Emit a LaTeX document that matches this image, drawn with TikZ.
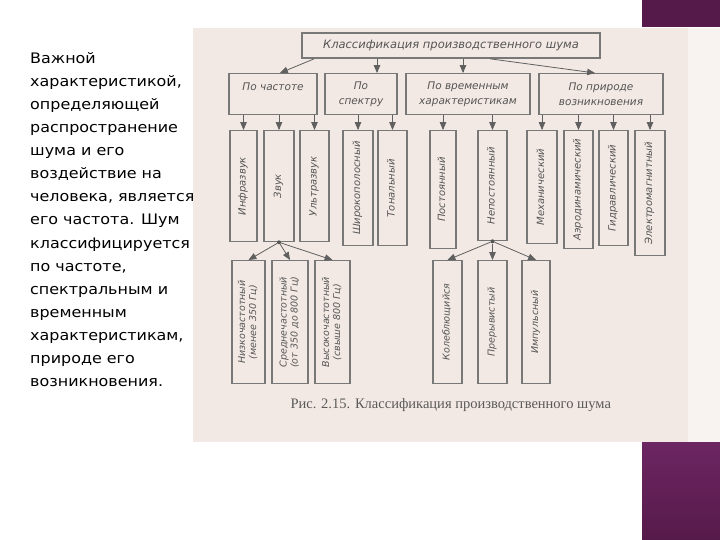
\documentclass[tikz,border=0pt]{standalone}
\usepackage{fontspec}
\setmainfont{Liberation Serif}
\setsansfont{DejaVu Sans}
\newfontfamily\introfont[FakeStretch=1.1]{DejaVu Sans}
\usetikzlibrary{arrows, positioning}
\definecolor{scanpaper}{HTML}{F3E9E4}
\definecolor{plum}{HTML}{561A4A}
\definecolor{plumlight}{HTML}{6C2662}
\definecolor{inkgray}{HTML}{555555}
\definecolor{framegray}{HTML}{787878}
\newcommand{\vtext}[1]{\rotatebox{90}{\begin{tabular}{@{}c@{}}#1\end{tabular}}}
\tikzset{
    >=triangle 45, % filled triangle tips as in the scan
    arrowline/.style={->, draw=framegray!80!black, line width=0.8pt},
    toplabel/.style={draw=framegray, line width=1.6pt, text=inkgray, font=\sffamily\itshape\fontsize{11.5}{13}\selectfont, minimum width=298pt, minimum height=25pt},
    groupbox/.style={draw=framegray, line width=1.2pt, text=inkgray, font=\sffamily\itshape\fontsize{10.5}{15}\selectfont, align=center, minimum height=41pt, anchor=north},
    kindbox/.style={draw=framegray, line width=1.3pt, text=inkgray, font=\sffamily\itshape\fontsize{10}{11}\selectfont, anchor=north, inner sep=0pt},
    subkindbox/.style={kindbox, font=\sffamily\itshape\fontsize{9.5}{11}\selectfont, minimum height=123pt},
    junction/.style={circle, fill=framegray!70!black, inner sep=0pt, minimum size=4pt},
}
\begin{document}
\begin{tikzpicture}[x=1pt, y=-1pt]
    \useasboundingbox (0,0) rectangle (720,540);
    % page, scan and side bar
    \fill[white] (0,0) rectangle (720,540);
    \fill[scanpaper] (193,28) rectangle (688,442);
    \fill[scanpaper!55!white] (688,28) rectangle (720,442);
    \fill[plum] (642,0) rectangle (720,27);
    \shade[top color=plumlight, bottom color=plum] (642,442) rectangle (720,540);

    \node[anchor=north west, align=left, inner sep=0pt, font=\introfont\fontsize{14.5}{23.1}\selectfont] (intro) at (30,52) {Важной\\характеристикой,\\определяющей\\распространение\\шума и его\\воздействие на\\человека, является\\его частота. Шум\\классифицируется\\по частоте,\\спектральным и\\временным\\характеристикам,\\природе его\\возникновения.};

    \node[toplabel] (title) at (451,45.5) {Классификация производственного шума};

    \node[groupbox, minimum width=88pt] (chast) at (273,73) {По частоте\\\mbox{}};
    \node[groupbox, minimum width=72pt] (spektr) at (361,73) {По\\спектру};
    \node[groupbox, minimum width=124pt] (vremya) at (468,73) {По временным\\характеристикам};
    \node[groupbox, minimum width=124pt] (priroda) at (601,73) {По природе\\возникновения};

    \node[kindbox, minimum width=27pt, minimum height=111pt] (infra) at (243.5,130) {\vtext{Инфразвук}};
    \node[kindbox, minimum width=30pt, minimum height=111pt] (zvuk) at (279,130) {\vtext{Звук}};
    \node[kindbox, minimum width=29pt, minimum height=111pt] (ultra) at (314.5,130) {\vtext{Ультразвук}};
    \node[kindbox, minimum width=30pt, minimum height=115pt] (shiroko) at (358,130) {\vtext{Широкополосный}};
    \node[kindbox, minimum width=29pt, minimum height=115pt] (tonal) at (392.5,130) {\vtext{Тональный}};
    \node[kindbox, minimum width=26pt, minimum height=118pt] (post) at (443,130) {\vtext{Постоянный}};
    \node[kindbox, minimum width=29pt, minimum height=110pt] (nepost) at (492.5,130) {\vtext{Непостоянный}};
    \node[kindbox, minimum width=30pt, minimum height=113pt] (meh) at (542,130) {\vtext{Механический}};
    \node[kindbox, minimum width=29pt, minimum height=118pt] (aero) at (578.5,130) {\vtext{Аэродинамический}};
    \node[kindbox, minimum width=29pt, minimum height=115pt] (gidro) at (613.5,130) {\vtext{Гидравлический}};
    \node[kindbox, minimum width=30pt, minimum height=125pt] (elektro) at (650,130) {\vtext{Электромагнитный}};

    \node[subkindbox, minimum width=33pt] (nizko) at (248.5,260) {\vtext{Низкочастотный\\(менее 350 Гц)}};
    \node[subkindbox, minimum width=36pt] (sredne) at (290,260) {\vtext{Среднечастотный\\(от 350 до 800 Гц)}};
    \node[subkindbox, minimum width=35pt] (vysoko) at (332.5,260) {\vtext{Высокочастотный\\(свыше 800 Гц)}};
    \node[subkindbox, minimum width=29pt] (koleb) at (447.5,260) {\vtext{Колеблющийся}};
    \node[subkindbox, minimum width=29pt] (preryv) at (492.5,260) {\vtext{Прерывистый}};
    \node[subkindbox, minimum width=28pt] (impuls) at (536,260) {\vtext{Импульсный}};

    \node[junction] (zvukdot) at (zvuk.south) {};
    \node[junction] (nepostdot) at (nepost.south) {};

    \node[anchor=base west, text=black!65, font=\fontsize{14.5}{16}\selectfont] (caption) at (287,408) {Рис. 2.15. Классификация производственного шума};

    % title to groups
    \draw[arrowline] ([xshift=13pt]title.south west) -- ([xshift=7pt]chast.north);
    \draw[arrowline] ([xshift=16pt]spektr.north |- title.south) -- ([xshift=16pt]spektr.north);
    \draw[arrowline] ([xshift=-5pt]vremya.north |- title.south) -- ([xshift=-5pt]vremya.north);
    \draw[arrowline] ([xshift=39pt]title.south) -- ([xshift=-6pt]priroda.north);
    % groups to kinds
    \foreach \kind/\group in {infra/chast, zvuk/chast, ultra/chast, shiroko/spektr, tonal/spektr, post/vremya, nepost/vremya, meh/priroda, aero/priroda, gidro/priroda, elektro/priroda}
        \draw[arrowline] (\kind.north |- \group.south) -- (\kind.north);
    % kinds to subkinds
    \foreach \sub in {nizko, sredne, vysoko}
        \draw[arrowline] (zvukdot) -- (\sub.north);
    \foreach \sub in {koleb, preryv, impuls}
        \draw[arrowline] (nepostdot) -- (\sub.north);
\end{tikzpicture}
\end{document}
